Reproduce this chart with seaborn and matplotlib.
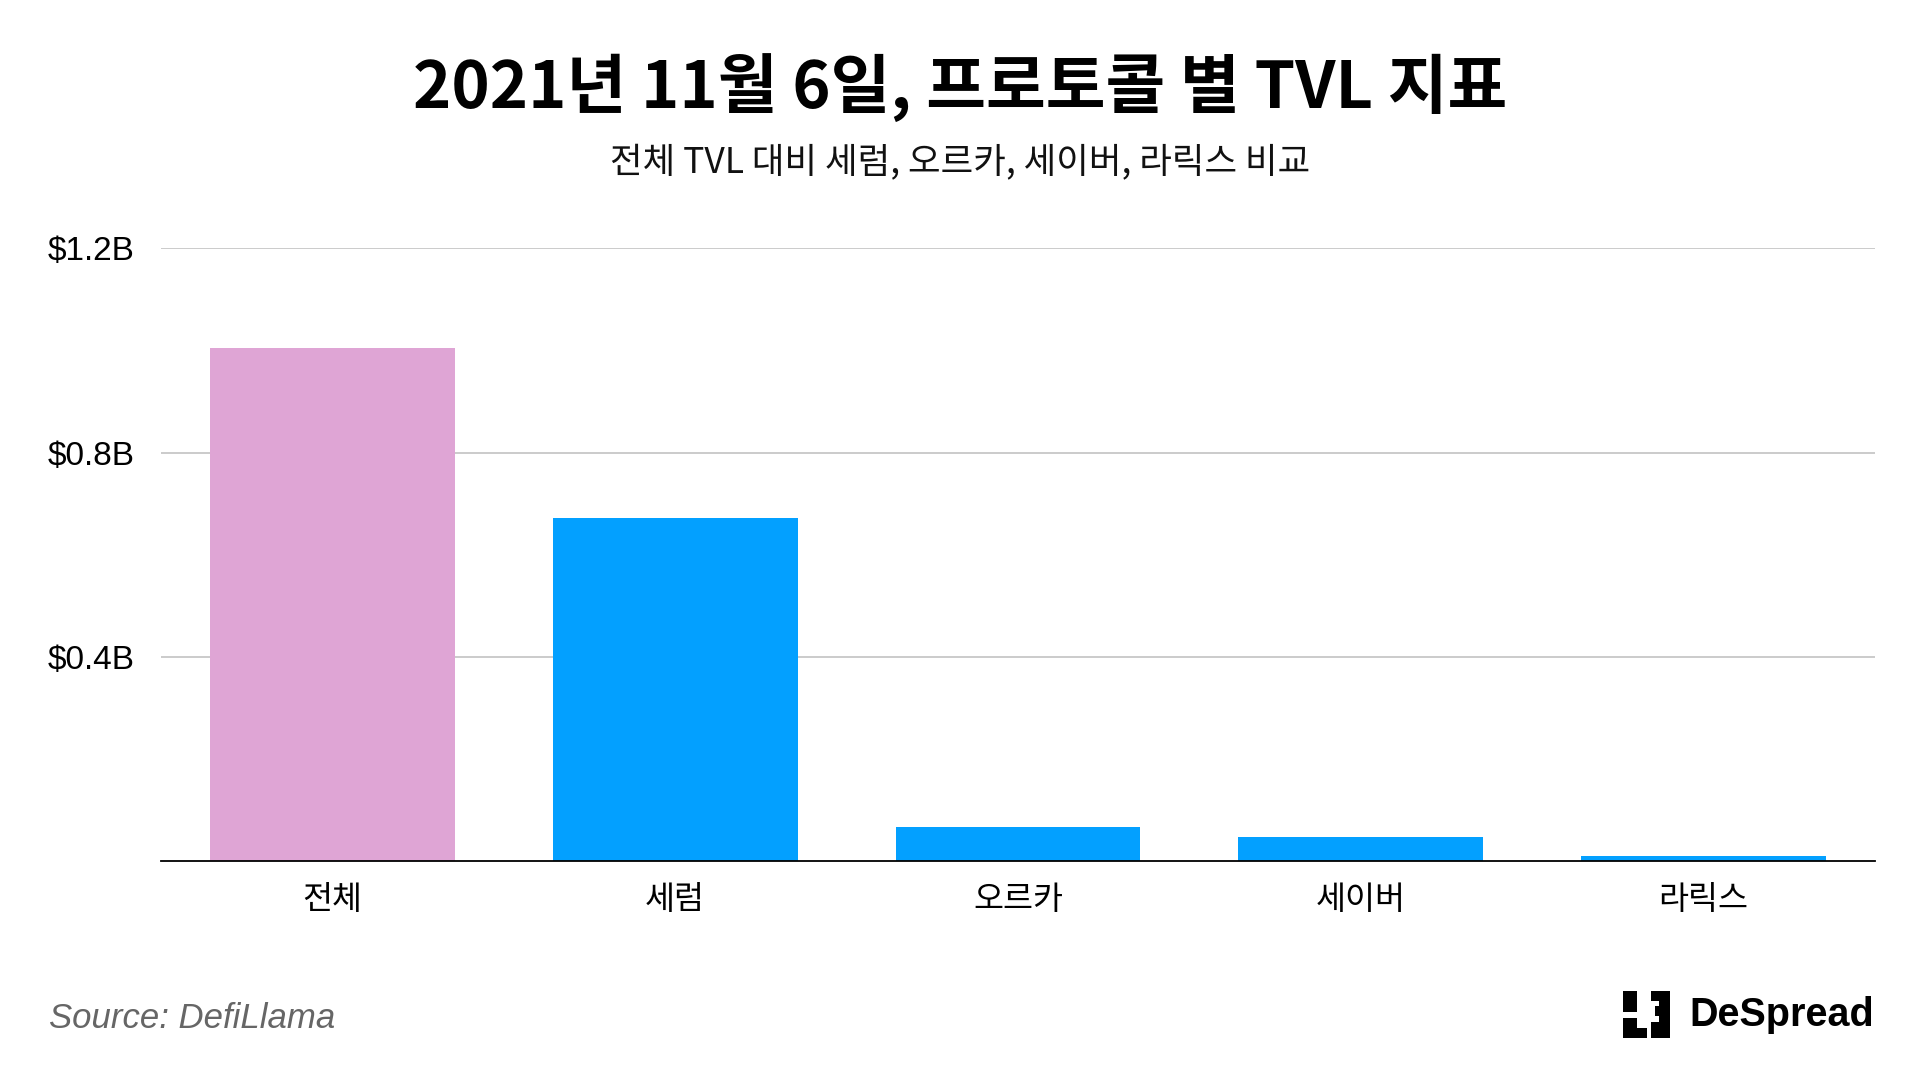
import matplotlib
matplotlib.use("Agg")
import matplotlib.pyplot as plt
import matplotlib.patches as mpatches
from matplotlib.ticker import FuncFormatter, FixedLocator
import seaborn as sns
import pandas as pd

# ---- data (billions USD) ----
categories = ["전체", "세럼", "오르카", "세이버", "라릭스"]
tvl_billion = [1.005, 0.672, 0.067, 0.048, 0.010]
bar_colors = ["#DFA5D5", "#03A0FF", "#03A0FF", "#03A0FF", "#03A0FF"]
y_ticks = [0.4, 0.8, 1.2]

title_text = "2021년 11월 6일, 프로토콜 별 TVL 지표"
subtitle_text = "전체 TVL 대비 세럼, 오르카, 세이버, 라릭스 비교"
source_text = "Source: DefiLlama"
brand_text = "DeSpread"

sns.set_theme(style="white")
plt.rcParams["font.family"] = ["Noto Sans CJK KR", "DejaVu Sans"]

df = pd.DataFrame({"protocol": categories, "tvl": tvl_billion})

W, H = 1920, 1080
fig = plt.figure(figsize=(19.2, 10.8), dpi=100)
fig.patch.set_facecolor("white")

left, right, top, bottom = 161, 1875, 248.3, 861.3
ax = fig.add_axes([left / W, 1 - bottom / H, (right - left) / W, (bottom - top) / H])

sns.barplot(data=df, x="protocol", y="tvl", hue="protocol", palette=bar_colors,
            legend=False, width=0.714, saturation=1, linewidth=0, ax=ax, zorder=3)

ax.set_xlim(-0.5, len(categories) - 0.5)
ax.set_ylim(0, 1.2)
ax.yaxis.set_major_locator(FixedLocator(y_ticks))
ax.yaxis.set_major_formatter(FuncFormatter(lambda v, p: f"${v:.1f}B"))
ax.set_xlabel("")
ax.set_ylabel("")

ax.grid(axis="y", color="#BDBDBD", linewidth=1.1, zorder=0)
ax.grid(axis="x", visible=False)
for s in ["top", "right", "left"]:
    ax.spines[s].set_visible(False)
ax.spines["bottom"].set_color("black")
ax.spines["bottom"].set_linewidth(1.3)
ax.spines["bottom"].set_zorder(5)
ax.set_axisbelow(True)

ax.tick_params(axis="y", length=0, pad=19, labelsize=24, labelcolor="black")
for lbl in ax.get_yticklabels():
    lbl.set_fontfamily(["Liberation Sans", "DejaVu Sans"])
ax.tick_params(axis="x", length=0, pad=16, labelsize=23.5, labelcolor="black")

# ---- titles ----
fig.text(0.5, 1 - 108 / H, title_text, ha="center", va="baseline",
         fontsize=46.8, fontweight="bold", color="black")
fig.text(0.5, 1 - 173 / H, subtitle_text, ha="center", va="baseline",
         fontsize=25.5, fontweight="medium", color="#111111")

# ---- footer ----
fig.text(49 / W, 1 - 1028 / H, source_text, ha="left", va="baseline",
         fontsize=25, style="italic", color="#666666",
         family=["Liberation Sans", "DejaVu Sans"])
fig.text(1874 / W, 1 - 1026 / H, brand_text, ha="right", va="baseline",
         fontsize=28.5, fontweight="bold", color="black",
         family=["Liberation Sans", "DejaVu Sans"])

# logo icon (pixel rectangles: x0, y0, x1, y1 in image coords)
logo_rects = [
    (1623.3, 991.0, 1637.0, 1011.7),
    (1623.3, 1018.3, 1637.0, 1038.3),
    (1637.0, 1027.7, 1646.7, 1038.3),
    (1651.0, 991.0, 1670.0, 1001.0),
    (1659.0, 991.0, 1670.0, 1038.3),
    (1655.0, 1006.0, 1670.0, 1016.0),
    (1651.0, 1022.0, 1670.0, 1038.3),
]
for x0, y0, x1, y1 in logo_rects:
    fig.add_artist(mpatches.Rectangle((x0 / W, 1 - y1 / H), (x1 - x0) / W, (y1 - y0) / H,
                                      transform=fig.transFigure, facecolor="black",
                                      edgecolor="none"))

fig.savefig("out.png", dpi=100, facecolor="white")
